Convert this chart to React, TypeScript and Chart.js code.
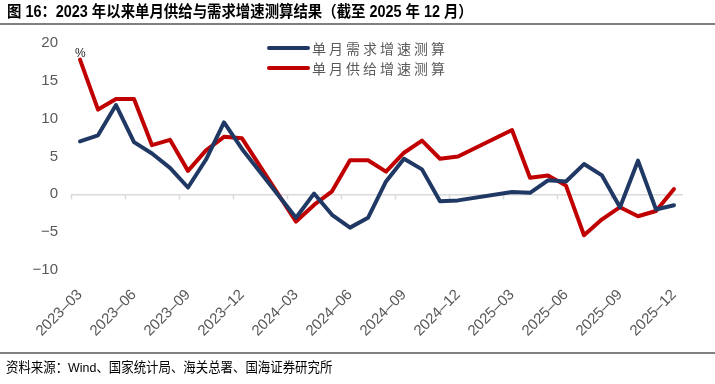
import React, { useEffect, useRef } from "react";
import { Chart, registerables } from "chart.js";

Chart.register(...registerables);

// ---- data ----
const categories = [
  "2023-03", "2023-04", "2023-05", "2023-06", "2023-07", "2023-08", "2023-09", "2023-10", "2023-11", "2023-12",
  "2024-01", "2024-02", "2024-03", "2024-04", "2024-05", "2024-06", "2024-07", "2024-08", "2024-09", "2024-10", "2024-11", "2024-12",
  "2025-01", "2025-02", "2025-03", "2025-04", "2025-05", "2025-06", "2025-07", "2025-08", "2025-09", "2025-10", "2025-11", "2025-12",
];

// 单月需求增速测算 (%), Jan/Feb not published separately
const demandGrowth: (number | null)[] = [
  7.0, 7.8, 11.8, 6.9, 5.4, 3.5, 0.9, 4.6, 9.5, 6.0,
  null, null, -3.1, 0.1, -2.7, -4.4, -3.1, 1.7, 4.7, 3.3, -0.9, -0.8,
  null, null, 0.3, 0.2, 1.85, 1.7, 4.0, 2.5, -1.7, 4.45, -2.0, -1.45,
];

// 单月供给增速测算 (%)
const supplyGrowth: (number | null)[] = [
  17.8, 11.2, 12.6, 12.6, 6.5, 7.2, 3.1, 5.8, 7.6, 7.4,
  null, null, -3.6, -1.4, 0.4, 4.5, 4.5, 3.0, 5.5, 7.1, 4.7, 5.0,
  null, null, 8.5, 2.2, 2.5, 1.15, -5.4, -3.3, -1.7, -2.9, -2.2, 0.7,
];

const seriesNames = ["单月需求增速测算", "单月供给增速测算"];
const seriesColors = ["#203864", "#C00000"];
const yMin = -10;
const yMax = 20;
const yStep = 5;
const labelEvery = 3;

const titleText = "图 16：2023 年以来单月供给与需求增速测算结果（截至 2025 年 12 月）";
const sourceText = "资料来源：Wind、国家统计局、海关总署、国海证券研究所";
const unitText = "%";

const zeroAxisTicks = {
  id: "zeroAxisTicks",
  beforeDatasetsDraw(chart: any) {
    const xs = chart.scales.x;
    const ys = chart.scales.y;
    const ctx = chart.ctx;
    const y0 = ys.getPixelForValue(0);
    const half = (xs.getPixelForValue(1) - xs.getPixelForValue(0)) / 2;
    ctx.save();
    ctx.strokeStyle = "#d9d9d9";
    ctx.lineWidth = 1.5;
    for (let i = 0; i < categories.length; i += labelEvery) {
      const px = Math.round(xs.getPixelForValue(i) - half) + 0.5;
      ctx.beginPath();
      ctx.moveTo(px, y0);
      ctx.lineTo(px, y0 + 5);
      ctx.stroke();
    }
    ctx.restore();
  },
};

export default function App() {
  const canvasRef = useRef<HTMLCanvasElement | null>(null);

  useEffect(() => {
    if (!canvasRef.current) return;
    const chart = new Chart(canvasRef.current, {
      type: "line",
      data: {
        labels: categories,
        datasets: [
          {
            label: seriesNames[0],
            data: demandGrowth,
            borderColor: seriesColors[0],
            backgroundColor: seriesColors[0],
            borderWidth: 4,
            pointRadius: 0,
            tension: 0,
            spanGaps: true,
            borderJoinStyle: "round",
            borderCapStyle: "round",
          },
          {
            label: seriesNames[1],
            data: supplyGrowth,
            borderColor: seriesColors[1],
            backgroundColor: seriesColors[1],
            borderWidth: 4,
            pointRadius: 0,
            tension: 0,
            spanGaps: true,
            borderJoinStyle: "round",
            borderCapStyle: "round",
          },
        ],
      },
      options: {
        animation: false,
        responsive: false,
        devicePixelRatio: 1,
        layout: { padding: { left: 0, right: 32, top: 43, bottom: 0 } },
        plugins: {
          legend: { display: false },
          tooltip: { enabled: false },
          title: { display: false },
        },
        scales: {
          x: {
            type: "category",
            offset: true,
            grid: { display: false, drawTicks: false },
            border: { display: false },
            ticks: {
              autoSkip: false,
              maxRotation: 45,
              minRotation: 45,
              padding: 16,
              color: "#595959",
              font: { family: "'Liberation Sans', Arial, sans-serif", size: 15 },
              callback: (_v: any, index: number) =>
                index % labelEvery === 0 ? categories[index].replace("-", "\u2013") : "",
            },
            afterFit: (scale: any) => {
              scale.height = 114;
            },
          },
          y: {
            min: yMin,
            max: yMax,
            grid: {
              drawTicks: false,
              color: (ctx: any) => (ctx.tick && ctx.tick.value === 0 ? "#d9d9d9" : "rgba(0,0,0,0)"),
              lineWidth: 1.5,
            },
            border: { display: false },
            ticks: {
              stepSize: yStep,
              padding: 13,
              color: "#595959",
              font: { family: "'Liberation Sans', Arial, sans-serif", size: 15 },
              callback: (v: any) => String(v).replace("-", "\u2212"),
            },
            afterFit: (scale: any) => {
              scale.width = 71;
            },
          },
        },
      },
      plugins: [zeroAxisTicks],
    });
    return () => chart.destroy();
  }, []);

  const legendRow = (i: number, top: number) => (
    <div
      key={i}
      style={{ position: "absolute", left: 267, top: top - 10, height: 20, display: "flex", alignItems: "center" }}
    >
      <div style={{ width: 43, height: 4, background: seriesColors[i], borderRadius: 2 }} />
      <span
        style={{
          marginLeft: 2,
          fontFamily: "'Noto Sans CJK SC', sans-serif",
          fontSize: 14,
          letterSpacing: 3,
          color: "#595959",
          lineHeight: "20px",
          whiteSpace: "nowrap",
        }}
      >
        {seriesNames[i]}
      </span>
    </div>
  );

  return (
    <div
      style={{
        position: "absolute",
        left: 0,
        top: 0,
        width: 715,
        height: 384,
        background: "#ffffff",
        overflow: "hidden",
      }}
    >
      <canvas ref={canvasRef} width={715} height={384} style={{ position: "absolute", left: 0, top: 0, width: 715, height: 384 }} />
      <div
        style={{
          position: "absolute",
          left: 7,
          top: 2,
          fontFamily: "'Liberation Sans', 'Noto Sans CJK SC', sans-serif",
          fontWeight: 700,
          fontSize: 16,
          lineHeight: "20px",
          color: "#000",
          whiteSpace: "nowrap",
          transform: "scaleX(0.9)",
          transformOrigin: "left center",
        }}
      >
        {titleText}
      </div>
      <div style={{ position: "absolute", left: 0, top: 23, width: 715, height: 2, background: "#808080" }} />
      <div style={{ position: "absolute", left: 0, top: 352, width: 715, height: 2, background: "#808080" }} />
      <div
        style={{
          position: "absolute",
          left: 6,
          top: 358,
          fontFamily: "'Liberation Sans', 'Noto Sans CJK SC', sans-serif",
          fontSize: 13.5,
          lineHeight: "20px",
          color: "#000",
          whiteSpace: "nowrap",
          transform: "scaleX(0.92)",
          transformOrigin: "left center",
        }}
      >
        {sourceText}
      </div>
      <div
        style={{
          position: "absolute",
          left: 75,
          top: 45,
          fontFamily: "'Liberation Sans', Arial, sans-serif",
          fontSize: 12,
          lineHeight: "16px",
          color: "#262626",
        }}
      >
        {unitText}
      </div>
      {legendRow(0, 48)}
      {legendRow(1, 68)}
    </div>
  );
}
